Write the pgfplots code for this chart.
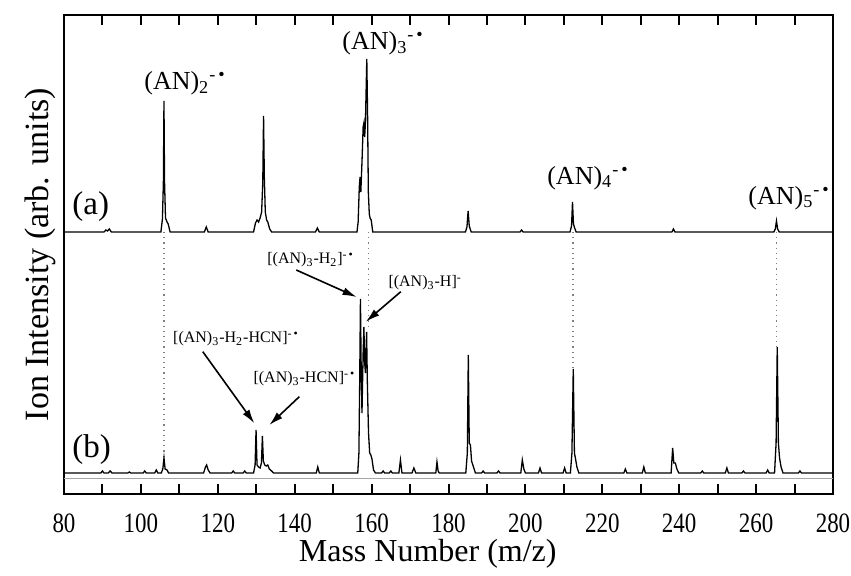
\documentclass[border=0pt]{standalone}
\usepackage{fontspec}
\setmainfont{Liberation Serif}
\usepackage{pgfplots}
\usepackage{pgfplotstable}
\pgfplotsset{compat=1.18}
\usetikzlibrary{arrows.meta}

% spectrum (a): m/z, intensity above its own baseline
\pgfplotstableread{
m h
80 0
90.4 0
90.9 2
91.3 1
91.8 3
92.3 0
105.2 0
105.6 13
105.85 50
106 131
106.15 50
106.4 14
106.8 10
107.1 8
107.6 0
116.5 0
117 5
117.5 0
129.3 0
129.8 9
130.2 12
130.6 10
131.0 14
131.4 20
131.7 50
131.9 116
132.1 55
132.35 20
132.7 12
133.0 10
133.5 3
134 0
145.4 0
145.9 4
146.4 0
156.2 0
156.5 10
156.8 45
157.0 55
157.2 40
157.5 70
157.8 105
158.0 109
158.2 95
158.4 110
158.75 173
158.95 120
159.15 40
159.4 18
159.6 14
159.9 12
160.3 0
184.4 0
184.8 5
185.1 21
185.4 6
185.9 0
198.6 0
199 2
199.4 0
211.6 0
212 6
212.25 30
212.5 8
212.8 4
213.2 0
238.1 0
238.5 3
238.9 0
264.6 0
265 3
265.3 11
265.6 3
266 0
280 0
}\specA

% spectrum (b)
\pgfplotstableread{
m h
80 0
89.6 0
90 2
90.4 0
91.5 0
92 2
92.5 0
96.6 0
97 1
97.4 0
100.6 0
101 2
101.4 0
103.6 0
104 3
104.4 0
105.3 0
105.7 4
106 15
106.3 4
106.8 3
107.2 0
116.3 0
116.8 6
117.1 8
117.5 3
118 0
123.6 0
124 2
124.4 0
126.6 0
127 2
127.4 0
129.3 0
129.7 8
129.95 43
130.2 8
130.6 6
131 5
131.35 10
131.6 37
131.85 12
132.2 8
132.6 7
133 8
133.4 4
134 2
134.5 0
145.6 0
146 6
146.4 0
156.4 0
156.7 20
156.9 90
157.1 174
157.3 100
157.5 60
157.8 120
158.0 146
158.2 110
158.4 100
158.7 141
158.9 90
159.2 40
159.5 20
159.8 18
160.1 14
160.5 3
161 0
162.6 0
163 2
163.4 0
164.6 0
165 2
165.4 0
167.1 0
167.5 13
167.9 0
170.5 0
171 5
171.5 0
176.7 0
177 11
177.3 2
177.6 0
184.5 0
184.9 20
185.15 118
185.4 30
185.7 28
186 12
186.5 6
187 0
188.6 0
189 2
189.4 0
192.6 0
193 2
193.4 0
198.8 0
199.2 13
199.6 4
200 0
203.4 0
203.8 5
204.2 0
209.8 0
210.2 5
210.6 0
211.7 0
212.1 20
212.45 104
212.75 20
213 15
213.4 6
213.9 0
225.6 0
226 4
226.4 0
230.4 0
230.8 6
231.2 0
237.9 0
238.3 25
238.6 10
239.0 10
239.4 4
239.9 0
245.6 0
246 2
246.4 0
252 0
252.4 5
252.8 0
256.3 0
256.7 2
257.1 0
262.6 0
263 3
263.4 0
264.8 0
265.2 30
265.5 126
265.8 30
266.1 15
266.5 6
267 0
271 0
271.4 2
271.8 0
280 0
}\specB

\newcommand{\rad}{\textsuperscript{-\,•}}
\begin{document}
\begin{tikzpicture}
\begin{axis}[
  name=ax,
  scale only axis,
  width=384.5pt, height=239.5pt,
  xmin=80, xmax=280, ymin=0, ymax=479,
  clip=false,
  axis line style={line width=1.3pt, black},
  xtick={80,100,...,280},
  minor xtick={90,110,...,270},
  ytick=\empty,
  tick align=inside,
  major tick length=5pt, minor tick length=5pt,
  every tick/.style={line width=1pt, black},
  /pgf/number format/assume math mode=true,
  x tick label style={font=\fontsize{14}{14}\selectfont, xscale=0.82, inner sep=0pt, yshift=-9.9pt},
  xlabel={Mass Number (m/z)},
  xlabel style={at={(rel axis cs:0.473,0)}, anchor=center, yshift=-30pt, font=\fontsize{16}{16}\selectfont},
  ylabel={Ion Intensity (arb. units)},
  ylabel style={at={(rel axis cs:-0.0312,0.5)}, anchor=center, font=\fontsize{17}{17}\selectfont},
]
% frame
\draw[black, line width=1.3pt] (rel axis cs:0,0) rectangle (rel axis cs:1,1);
% dotted guide lines
\draw[gray, dotted, line width=0.6pt] (axis cs:106,262) -- (axis cs:106,36);
\draw[gray, dotted, line width=0.6pt] (axis cs:159.1,262) -- (axis cs:159.1,165);
\draw[gray, dotted, line width=0.6pt] (axis cs:212.4,262) -- (axis cs:212.4,125);
\draw[gray, dotted, line width=0.6pt] (axis cs:265.4,262) -- (axis cs:265.4,147);
\draw[gray!70, line width=0.4pt] (axis cs:80,16) -- (axis cs:280,16);

\addplot[black, line width=0.65pt] table[x=m, y expr=\thisrow{h}+262] {\specA};
\addplot[black, line width=0.65pt] table[x=m, y expr=\thisrow{h}+21] {\specB};

% labels
\node[anchor=west, font=\fontsize{16.5}{16.5}\selectfont, inner sep=0pt] at (axis cs:82.1,287) {(a)};
\node[anchor=west, font=\fontsize{16.5}{16.5}\selectfont, inner sep=0pt] at (axis cs:82.1,44) {(b)};
\node[anchor=west, font=\fontsize{13}{13}\selectfont, inner sep=0pt] at (axis cs:100.8,411) {(AN)\textsubscript{2}\rad};
\node[anchor=west, font=\fontsize{13}{13}\selectfont, inner sep=0pt] at (axis cs:152.3,451) {(AN)\textsubscript{3}\rad};
\node[anchor=west, font=\fontsize{13}{13}\selectfont, inner sep=0pt] at (axis cs:205.6,316) {(AN)\textsubscript{4}\rad};
\node[anchor=west, font=\fontsize{13}{13}\selectfont, inner sep=0pt] at (axis cs:257.9,296) {(AN)\textsubscript{5}\rad};

\node[anchor=west, font=\fontsize{8}{8}\selectfont, inner sep=0pt] at (axis cs:132.8,234) {[(AN)\textsubscript{3}-H\textsubscript{2}]\rad};
\node[anchor=west, font=\fontsize{8}{8}\selectfont, inner sep=0pt] at (axis cs:164.3,211) {[(AN)\textsubscript{3}-H]\textsuperscript{-}};
\node[anchor=west, font=\fontsize{8}{8}\selectfont, inner sep=0pt] at (axis cs:108.3,155) {[(AN)\textsubscript{3}-H\textsubscript{2}-HCN]\rad};
\node[anchor=west, font=\fontsize{8}{8}\selectfont, inner sep=0pt] at (axis cs:129.2,115) {[(AN)\textsubscript{3}-HCN]\rad};

\draw[-{Latex[length=7pt,width=4pt]}, line width=0.8pt] (axis cs:140.4,224) -- (axis cs:156.1,197);
\draw[-{Latex[length=7pt,width=4pt]}, line width=0.8pt] (axis cs:167.6,202.3) -- (axis cs:158.5,172.3);
\draw[-{Latex[length=7pt,width=4pt]}, line width=0.8pt] (axis cs:116.1,142.3) -- (axis cs:129.5,70.7);
\draw[-{Latex[length=7pt,width=4pt]}, line width=0.8pt] (axis cs:141.2,97.3) -- (axis cs:133.4,69);
\end{axis}
\path (ax.south west) ++(-32pt,-36.5pt) rectangle ([xshift=9pt,yshift=7.5pt]ax.north east);
\end{tikzpicture}
\end{document}
